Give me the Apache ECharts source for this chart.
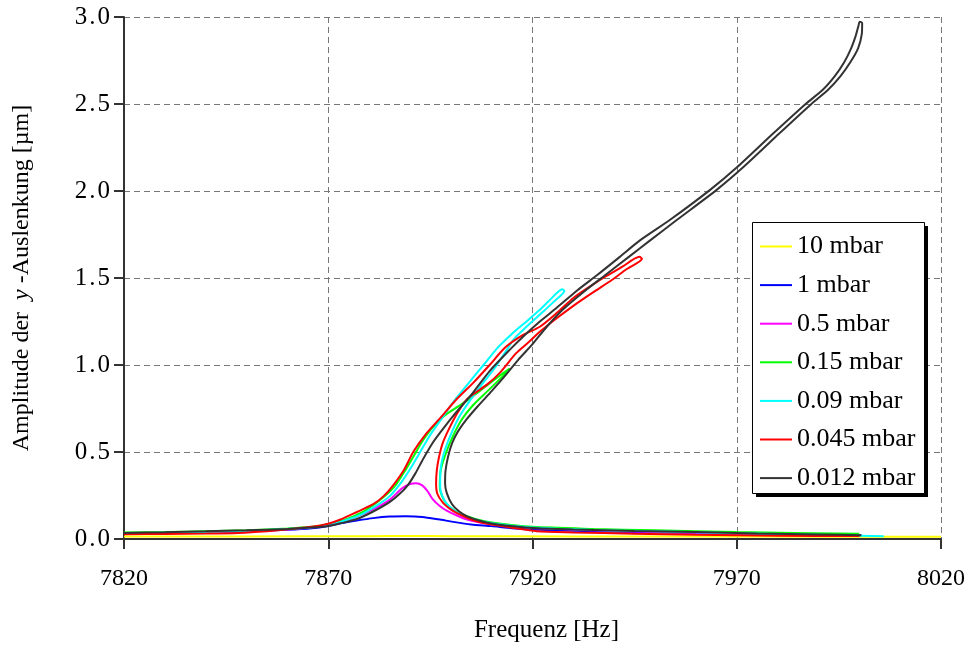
<!DOCTYPE html>
<html>
<head>
<meta charset="utf-8">
<script src="https://cdn.jsdelivr.net/npm/echarts@6/dist/echarts.min.js"></script>
<style>
  html, body { margin: 0; padding: 0; background: #fff; }
  #chart { width: 972px; height: 648px; }
</style>
</head>
<body>
<div id="chart"></div>
<script>
// Resonance curves of the y-deflection amplitude for several chamber pressures.
// Each curve is a frequency sweep [Hz, µm]: up along the upper branch, back down
// the return branch, over the fold and out along the right-hand tail.

const seriesNames = ['10 mbar', '1 mbar', '0.5 mbar', '0.15 mbar', '0.09 mbar', '0.045 mbar', '0.012 mbar'];
const seriesColors = ['#ffff00', '#0000ff', '#ff00ff', '#00ff00', '#00ffff', '#ff0000', '#333333'];

const xTicks = [7820, 7870, 7920, 7970, 8020];
const yTicks = [0.0, 0.5, 1.0, 1.5, 2.0, 2.5, 3.0];

const sweep10mbar = [[7820,0.015],[7850,0.015],[7880,0.016],[7890,0.017],[7900,0.016],[7930,0.015],[7970,0.014],[8020,0.013]];

const sweep1mbar = [[7820,0.030],[7830,0.033],[7840,0.038],[7850,0.044],[7860,0.053],[7866,0.062],[7870,0.075],[7873,0.090],[7877,0.106],[7881,0.120],[7885,0.129],[7889,0.131],[7893,0.127],[7897,0.113],[7901,0.097],[7905,0.084],[7910,0.074],[7915,0.062],[7920,0.055],[7930,0.047],[7945,0.040],[7960,0.034],[7980,0.027],[8000.5,0.022]];

const sweep05mbar = [[7820,0.030],[7840,0.040],[7855,0.050],[7865,0.065],[7872,0.090],[7877,0.130],[7881,0.170],[7885,0.225],[7888,0.290],[7890,0.316],[7891.5,0.321],[7893,0.308],[7894.3,0.275],[7895.6,0.228],[7897.3,0.190],[7899,0.163],[7901.5,0.135],[7904,0.112],[7908,0.092],[7913,0.076],[7920,0.063],[7935,0.050],[7955,0.038],[7975,0.030],[7995,0.022]];

const sweep015mbar = [[7820,0.038],[7830,0.040],[7840,0.045],[7850,0.050],[7860,0.060],[7866,0.070],[7870,0.085],[7874,0.110],[7878,0.150],[7881,0.195],[7884,0.250],[7886.5,0.310],[7889,0.400],[7891,0.480],[7893,0.560],[7895.5,0.640],[7898.5,0.710],[7902,0.765],[7905.4,0.820],[7908.7,0.880],[7911.5,0.930],[7914.4,0.980],
  [7914,0.965],[7912.5,0.930],[7909,0.850],[7905.5,0.770],[7902.5,0.680],[7900.3,0.580],[7898.6,0.480],[7897.5,0.390],[7897.3,0.300],[7898.3,0.225],[7900,0.180],[7902,0.150],[7906,0.115],[7910,0.095],[7920,0.070],[7935,0.058],[7950,0.050],[7970,0.040],[8000,0.030]];

const sweep009mbar = [[7820,0.032],[7830,0.036],[7840,0.040],[7850,0.047],[7860,0.058],[7866,0.068],[7870,0.080],[7874,0.105],[7878,0.140],[7882,0.195],[7885,0.245],[7888,0.330],[7890.5,0.420],[7892.5,0.500],[7895,0.600],[7898,0.700],[7901,0.800],[7904.5,0.900],[7908,1.000],[7911.5,1.100],[7915,1.180],[7918,1.240],[7921.8,1.317],[7924.5,1.380],[7926.5,1.425],[7927.3,1.435],
  [7927.8,1.425],[7925.5,1.370],[7922.3,1.300],[7919,1.230],[7915.5,1.150],[7913.5,1.080],[7911,0.990],[7908,0.900],[7904.8,0.800],[7902,0.700],[7900,0.600],[7898.4,0.500],[7897.5,0.400],[7897.4,0.300],[7898.5,0.220],[7900.5,0.170],[7903,0.135],[7907,0.105],[7912,0.085],[7920,0.066],[7935,0.052],[7950,0.044],[7970,0.033],[7990,0.024],[8006,0.016]];

const sweep0045mbar = [[7820,0.028],[7830,0.029],[7840,0.031],[7848,0.035],[7855,0.045],[7860,0.056],[7866,0.070],[7870,0.088],[7873,0.112],[7877,0.155],[7881,0.200],[7883.5,0.245],[7885.6,0.300],[7888.6,0.400],[7890.8,0.500],[7893.8,0.600],[7897.6,0.700],[7901.3,0.800],[7905.6,0.900],[7909.5,1.000],[7913.3,1.100],[7917.5,1.170],[7921.8,1.220],[7926,1.300],[7930,1.385],[7934,1.450],[7938,1.510],[7942,1.565],[7946.2,1.622],
  [7946.8,1.610],[7943,1.550],[7939.5,1.490],[7935,1.420],[7930,1.340],[7926,1.270],[7922,1.195],[7919,1.130],[7916,1.068],[7912,0.955],[7909,0.890],[7906,0.840],[7903.8,0.800],[7901.5,0.720],[7899.5,0.630],[7898,0.550],[7897.1,0.470],[7896.6,0.400],[7896.4,0.320],[7896.7,0.260],[7898.1,0.208],[7900,0.170],[7901.4,0.150],[7904,0.122],[7906.3,0.102],[7910,0.083],[7915,0.065],[7921,0.045],[7930,0.038],[7945,0.030],[7960,0.024],[7980,0.019],[8000,0.017]];

const sweep0012mbar = [[7820,0.035],[7830,0.039],[7840,0.044],[7850,0.050],[7860,0.058],[7866,0.066],[7870,0.075],[7873,0.090],[7877,0.115],[7881,0.158],[7885,0.212],[7887.5,0.260],[7889.5,0.310],[7891.4,0.380],[7893,0.450],[7895.5,0.550],[7898,0.630],[7900.5,0.705],[7905.4,0.840],[7909.5,0.965],[7914.4,1.087],[7918,1.170],[7921.8,1.250],[7926,1.330],[7931,1.430],[7936,1.520],[7941.3,1.620],[7946.3,1.716],[7953.6,1.833],[7963.4,2.005],[7970.2,2.139],[7978.9,2.330],[7987,2.503],[7991,2.580],[7994,2.660],[7996.3,2.740],[7998,2.820],[7999.1,2.890],[7999.8,2.950],[8000.1,2.972],
  [8000.7,2.966],[8000.6,2.900],[7999.7,2.820],[7997.8,2.740],[7995.4,2.660],[7992.3,2.580],[7988.4,2.503],[7980.4,2.330],[7971.7,2.139],[7965,2.005],[7955.3,1.833],[7948.8,1.716],[7943.5,1.620],[7938,1.520],[7932.5,1.420],[7927.5,1.320],[7923.5,1.220],[7920,1.120],[7916.5,1.030],[7913,0.930],[7910,0.850],[7906.5,0.760],[7903.8,0.686],[7901.8,0.620],[7900.3,0.550],[7899.3,0.470],[7898.7,0.390],[7898.6,0.320],[7899,0.265],[7900.3,0.200],[7902,0.160],[7904,0.130],[7907.1,0.105],[7911,0.085],[7915,0.074],[7920,0.063],[7930,0.055],[7945,0.046],[7960,0.040],[7975,0.032],[7990,0.026],[8000.5,0.022]];

const sweeps = [sweep10mbar, sweep1mbar, sweep05mbar, sweep015mbar, sweep009mbar, sweep0045mbar, sweep0012mbar];

const FONT = '"Liberation Serif", "Times New Roman", serif';

// legend frame with a hard drop shadow
const legendBox = { x: 752, y: 222, w: 172, h: 271, shadow: 4 };

const chart = echarts.init(document.getElementById('chart'), null, { renderer: 'canvas' });

chart.setOption({
  animation: false,
  backgroundColor: '#ffffff',
  grid: { left: 124, right: 31, top: 17, bottom: 108, containLabel: false },
  xAxis: {
    type: 'value',
    min: xTicks[0],
    max: xTicks[xTicks.length - 1],
    interval: xTicks[1] - xTicks[0],
    name: 'Frequenz [Hz]',
    nameLocation: 'middle',
    nameGap: 79,
    nameTextStyle: { fontFamily: FONT, fontSize: 25, color: '#000', padding: [0, 0, 0, 28] },
    axisLine: { show: true, onZero: false, lineStyle: { color: '#333', width: 2 } },
    axisTick: { show: true, length: 10, lineStyle: { color: '#333', width: 2 } },
    axisLabel: { margin: 28, fontFamily: FONT, fontSize: 24, color: '#000', formatter: v => String(v) },
    splitLine: { show: true, lineStyle: { color: '#777', width: 1, type: [6, 4] } }
  },
  yAxis: {
    type: 'value',
    min: yTicks[0],
    max: yTicks[yTicks.length - 1],
    interval: yTicks[1] - yTicks[0],
    name: '{n|Amplitude der  }{i|y}{n| -Auslenkung [µm]}',
    nameLocation: 'middle',
    nameRotate: 90,
    nameGap: 90,
    nameTextStyle: {
      rich: {
        n: { fontFamily: FONT, fontSize: 24, color: '#000' },
        i: { fontFamily: FONT, fontSize: 24, color: '#000', fontStyle: 'italic' }
      }
    },
    axisLine: { show: true, onZero: false, lineStyle: { color: '#333', width: 2 } },
    axisTick: { show: true, length: 10, lineStyle: { color: '#333', width: 2 } },
    axisLabel: {
      margin: 14,
      formatter: v => {
        const s = v.toFixed(1).split('.');
        return '{d|' + s[0] + '}{p|.}{d|' + s[1] + '}';
      },
      rich: {
        d: { fontFamily: FONT, fontSize: 25, color: '#000' },
        p: { fontFamily: FONT, fontSize: 25, color: '#000', padding: [0, 2, 0, 2] }
      }
    },
    splitLine: { show: true, lineStyle: { color: '#777', width: 1, type: [6, 4] } }
  },
  graphic: [
    {
      type: 'rect', z: 3, silent: true,
      shape: { x: legendBox.x + legendBox.shadow, y: legendBox.y + legendBox.shadow, width: legendBox.w, height: legendBox.h },
      style: { fill: '#000' }
    },
    {
      type: 'rect', z: 3, silent: true,
      shape: { x: legendBox.x + 0.5, y: legendBox.y + 0.5, width: legendBox.w, height: legendBox.h },
      style: { fill: '#fff', stroke: '#000', lineWidth: 1 }
    }
  ],
  legend: {
    orient: 'vertical',
    left: 760,
    top: 233.5,
    padding: 0,
    itemGap: 12.6,
    itemWidth: 32,
    itemHeight: 14,
    z: 10,
    textStyle: { fontFamily: FONT, fontSize: 26, color: '#000', lineHeight: 26 },
    data: seriesNames.map((n, i) => ({ name: n, icon: 'path://M0,0 L32,0 L32,2 L0,2 Z', itemStyle: { color: seriesColors[i] } }))
  },
  series: sweeps.map((d, i) => ({
    name: seriesNames[i],
    type: 'line',
    data: d,
    showSymbol: false,
    symbol: 'none',
    smooth: 0.25,
    clip: true,
    lineStyle: { color: seriesColors[i], width: 2 },
    itemStyle: { color: seriesColors[i] },
    z: 2 + i
  }))
});
</script>
</body>
</html>
